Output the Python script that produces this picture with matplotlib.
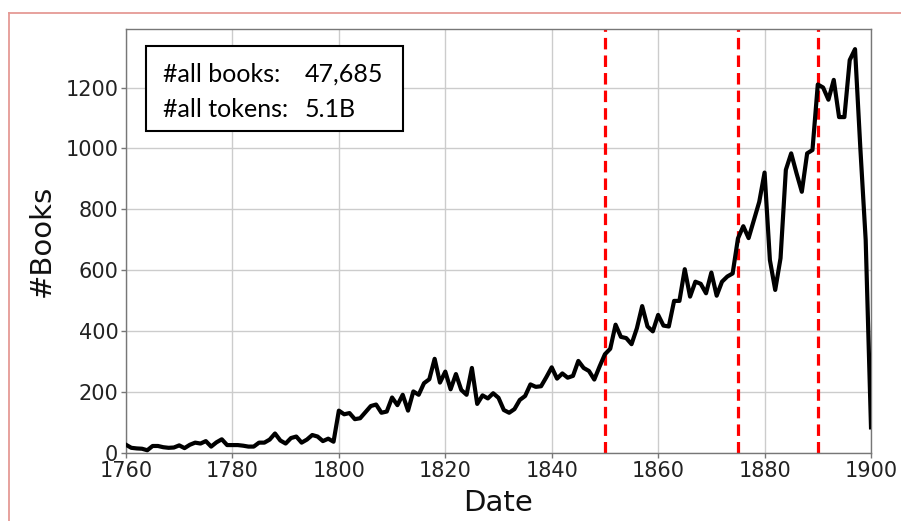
import numpy as np
import matplotlib.pyplot as plt
from matplotlib.lines import Line2D
from matplotlib.patches import Rectangle

# # Data (books per year):
years = np.arange(1760, 1901)
books = [
    28, 18, 16, 15, 10, 24, 24, 20, 18, 19,          # 1760-1769
    26, 17, 28, 35, 32, 40, 22, 36, 46, 27,          # 1770-1779
    27, 27, 25, 22, 22, 35, 35, 45, 65, 42,          # 1780-1789
    32, 50, 55, 35, 45, 60, 55, 40, 48, 38,          # 1790-1799
    140, 128, 132, 112, 115, 135, 155, 160, 133, 137,  # 1800-1809
    183, 158, 192, 140, 203, 192, 230, 243, 310, 232,  # 1810-1819
    268, 210, 260, 208, 192, 280, 162, 190, 180, 197,  # 1820-1829
    182, 142, 133, 145, 175, 188, 226, 218, 220, 250,  # 1830-1839
    282, 245, 262, 248, 254, 303, 280, 270, 242, 285,  # 1840-1849
    325, 343, 422, 382, 378, 358, 410, 483, 416, 400,  # 1850-1859
    454, 419, 416, 500, 500, 604, 514, 563, 556, 525,  # 1860-1869
    593, 517, 563, 580, 590, 705, 745, 706, 765, 825,  # 1870-1879
    921, 634, 536, 640, 930, 984, 919, 858, 984, 995,  # 1880-1889
    1210, 1200, 1160, 1225, 1103, 1103, 1290, 1326, 1000, 700,  # 1890-1899
    85,                                                # 1900
]
period_marks = [1850, 1875, 1890]
stats_labels = ["#all books:", "#all tokens:"]
stats_values = ["47,685", "5.1B"]

W, H = 901, 521
fig = plt.figure(figsize=(W / 100, H / 100), dpi=100)
ax = fig.add_axes([126 / W, 1 - 453.3 / H, (871 - 126) / W, (453.3 - 29) / H])

ax.plot(years, books, color='black', linewidth=3.0, zorder=3)
for yr in period_marks:
    ax.axvline(yr, color='red', linewidth=2.3, linestyle=(0, (3.6, 1.9)), zorder=2)

ax.set_xlim(1760, 1900)
ax.set_ylim(0, 1392)
ax.set_xticks(np.arange(1760, 1901, 20))
ax.set_yticks(np.arange(0, 1201, 200))
ax.grid(True, color='#cccccc', linewidth=1.0)
ax.set_axisbelow(True)
for s in ax.spines.values():
    s.set_color('#777777')
    s.set_linewidth(1.0)
ax.tick_params(colors='#777777', labelcolor='#222222', labelsize=15, length=3.5, width=1.0, pad=2)

ax.set_xlabel("Date", fontsize=21, color='#111111', labelpad=6)
ax.set_ylabel("#Books", fontsize=21, color='#111111', labelpad=7)

# # Stats box in the top-left corner:
fig.add_artist(Rectangle((146 / W, 1 - 131 / H), (403 - 146) / W, (131 - 46) / H,
                         transform=fig.transFigure, facecolor='white', edgecolor='black', linewidth=1.5))
for i, (lab, val) in enumerate(zip(stats_labels, stats_values)):
    yy = 1 - (82 + 35 * i) / H
    fig.text(163 / W, yy, lab, fontsize=18, family='Lato', va='baseline', ha='left')
    fig.text(305 / W, yy, val, fontsize=18, family='Lato', va='baseline', ha='left')

# # Slide border remnants (thin salmon lines top and left):
fig.add_artist(Line2D([9 / W, 1], [1 - 13 / H, 1 - 13 / H], color='#e59a95', linewidth=1.3))
fig.add_artist(Line2D([9 / W, 9 / W], [0, 1 - 13 / H], color='#e59a95', linewidth=1.3))

plt.savefig("out.png", dpi=100)
